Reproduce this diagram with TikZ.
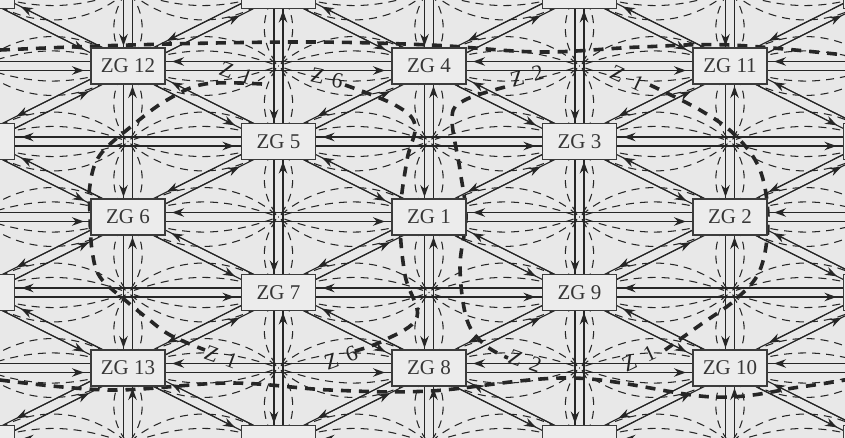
\documentclass[tikz,border=0pt]{standalone}
\usepackage{fontspec}
\setmainfont{Liberation Serif}
\usetikzlibrary{calc,arrows.meta}
\definecolor{bgc}{RGB}{232,232,232}
\definecolor{ink}{RGB}{38,38,38}
\definecolor{boxbg}{RGB}{236,236,236}
\definecolor{boxln}{RGB}{60,60,60}
\definecolor{txt}{RGB}{55,55,55}
\definecolor{ztxt}{RGB}{35,35,35}
\tikzset{
  conn/.style={draw=ink, line width=1.1pt},
  thindash/.style={draw=ink, line width=1.05pt, dash pattern=on 8pt off 6pt},
  zone/.style={draw=ink, line width=3.6pt, dash pattern=on 10pt off 8pt},
  zgbox/.style={draw=boxln, fill=boxbg, line width=1.4pt, minimum width=74pt,
    minimum height=36pt, inner sep=0pt, font=\fontsize{21}{21}\selectfont, text=txt},
  zlab/.style={font=\fontsize{22}{22}\selectfont, text=ztxt, inner sep=1pt}
}
\newcommand\oneway[4]{%
  \draw[conn] ($(#1)!#3!-90:(#2)$) -- ($(#2)!#3!90:(#1)$);
  \draw[conn,-{Stealth[length=12pt,width=8.5pt]}] ($(#1)!#3!-90:(#2)$) --
     ($($(#2)!#3!90:(#1)$)!#4!($(#1)!#3!-90:(#2)$)$);}
\newcommand\twoway[4]{\oneway{#1}{#2}{#3}{#4}\oneway{#2}{#1}{#3}{#4}}
\begin{document}
\begin{tikzpicture}[x=1pt,y=-1pt]
\fill[bgc] (0,0) rectangle (845,438);
\useasboundingbox (0,0) rectangle (845,438);
\clip (0,0) rectangle (845,438);
% lattice coordinates
\foreach \a in {0,...,8}{\foreach \b in {0,...,8}{
  \coordinate (L\a\b) at ({128+150.5*(\a-2)},{66+75.5*(\b-2)});
}}
% thin dashed field lines
\foreach \a in {0,...,8}{\foreach \b in {0,...,8}{
  \pgfmathtruncatemacro\pp{mod(\a+\b,2)}
  \ifnum\pp=0
    \pgfmathtruncatemacro\ar{\a+1}\pgfmathtruncatemacro\al{\a-1}
    \pgfmathtruncatemacro\bd{\b+1}\pgfmathtruncatemacro\bu{\b-1}
    \ifnum\ar<9
      \draw[thindash] (L\a\b) to[bend left=20] (L\ar\b);
      \draw[thindash] (L\a\b) to[bend right=20] (L\ar\b);
      \draw[thindash] (L\a\b) to[bend left=42] (L\ar\b);
      \draw[thindash] (L\a\b) to[bend right=42] (L\ar\b);
    \fi
    \ifnum\al>-1
      \draw[thindash] (L\a\b) to[bend left=20] (L\al\b);
      \draw[thindash] (L\a\b) to[bend right=20] (L\al\b);
      \draw[thindash] (L\a\b) to[bend left=42] (L\al\b);
      \draw[thindash] (L\a\b) to[bend right=42] (L\al\b);
    \fi
    \ifnum\bd<9
      \draw[thindash] (L\a\b) to[bend left=40] (L\a\bd);
      \draw[thindash] (L\a\b) to[bend right=40] (L\a\bd);
    \fi
    \ifnum\bu>-1
      \draw[thindash] (L\a\b) to[bend left=40] (L\a\bu);
      \draw[thindash] (L\a\b) to[bend right=40] (L\a\bu);
    \fi
  \fi
}}
% solid two-way connectors
\foreach \a in {0,...,8}{\foreach \b in {0,...,8}{
  \pgfmathtruncatemacro\pp{mod(\a+\b,2)}
  \ifnum\pp=0
    \pgfmathtruncatemacro\aa{\a+2}\pgfmathtruncatemacro\bb{\b+2}
    \pgfmathtruncatemacro\ar{\a+1}\pgfmathtruncatemacro\bd{\b+1}
    \pgfmathtruncatemacro\bu{\b-1}
    \ifnum\aa<9 \twoway{L\a\b}{L\aa\b}{4.5pt}{44pt}\fi
    \ifnum\bb<9 \twoway{L\a\b}{L\a\bb}{4.5pt}{20pt}\fi
    \ifnum\ar<9
      \ifnum\bd<9 \twoway{L\a\b}{L\ar\bd}{5pt}{46pt}\fi
      \ifnum\bu>-1 \twoway{L\a\b}{L\ar\bu}{5pt}{46pt}\fi
    \fi
  \fi
}}
% zone boundaries (thick dashed)
\draw[zone] plot[smooth,tension=0.6] coordinates {(0,50) (130,45) (300,42) (430,45) (540,52) (640,47) (730,45) (845,55)};
\draw[zone] plot[smooth,tension=0.6] coordinates {(0,380) (110,390) (230,383) (330,390) (430,391) (573,378) (713,397) (800,387) (845,380)};
\draw[zone] plot[smooth,tension=0.6] coordinates {(262,84) (205,84) (167,100) (133,125) (100,155) (90,185) (90,215) (92,250) (100,277) (125,300) (147,318) (170,335) (205,350)};
\draw[zone] plot[smooth,tension=0.6] coordinates {(650,85) (700,110) (735,135) (760,170) (768,220) (760,270) (735,300) (700,325) (665,350)};
\draw[zone] plot[smooth,tension=0.6] coordinates {(345,85) (395,105) (415,125) (407,160) (400,217) (405,275) (417,317) (385,340) (352,352)};
\draw[zone] plot[smooth,tension=0.6] coordinates {(505,87) (465,100) (452,117) (460,170) (466,217) (460,267) (467,320) (485,345) (508,358)};
% boxes (incl. partially visible ones off the edge)
\foreach \a in {0,...,8}{\foreach \b in {0,...,8}{
  \pgfmathtruncatemacro\pp{mod(\a+\b,2)}
  \ifnum\pp=0 \node[zgbox] (B\a\b) at (L\a\b) {};\fi
}}
\node[zgbox] (zg12) at (L22) {ZG 12};
\node[zgbox] (zg4)  at (L42) {ZG 4};
\node[zgbox] (zg11) at (L62) {ZG 11};
\node[zgbox] (zg5)  at (L33) {ZG 5};
\node[zgbox] (zg3)  at (L53) {ZG 3};
\node[zgbox] (zg6)  at (L24) {ZG 6};
\node[zgbox] (zg1)  at (L44) {ZG 1};
\node[zgbox] (zg2)  at (L64) {ZG 2};
\node[zgbox] (zg7)  at (L35) {ZG 7};
\node[zgbox] (zg9)  at (L55) {ZG 9};
\node[zgbox] (zg13) at (L26) {ZG 13};
\node[zgbox] (zg8)  at (L46) {ZG 8};
\node[zgbox] (zg10) at (L66) {ZG 10};
% zone labels
\node[zlab,rotate=-20] (z1a) at (236,73) {Z\hspace{9pt}1};
\node[zlab,rotate=-12] (z6a) at (327,78) {Z\hspace{8pt}6};
\node[zlab,rotate=15]  (z2a) at (527,76) {Z\hspace{9pt}2};
\node[zlab,rotate=-25] (z1b) at (627,78) {Z\hspace{10pt}1};
\node[zlab,rotate=-20] (z1c) at (221,357) {Z\hspace{9pt}1};
\node[zlab,rotate=20]  (z6b) at (341,358) {Z\hspace{9pt}6};
\node[zlab,rotate=-20] (z2b) at (525,361) {Z\hspace{9pt}2};
\node[zlab,rotate=25]  (z1d) at (639,359) {Z\hspace{10pt}1};
\end{tikzpicture}
\end{document}
